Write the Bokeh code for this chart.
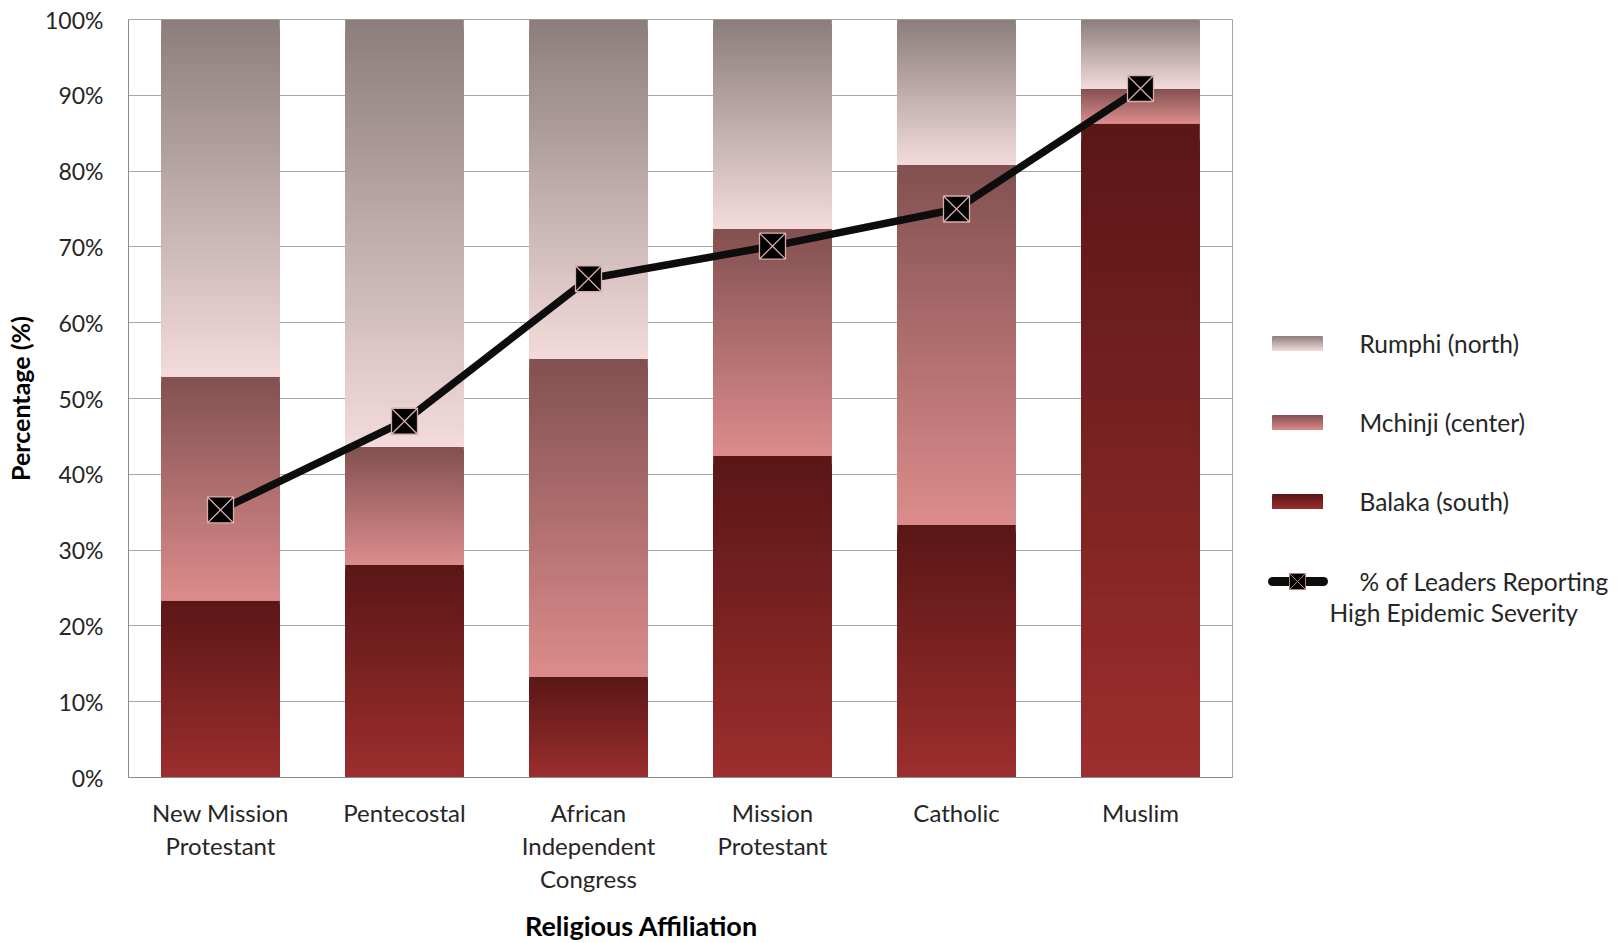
from bokeh.plotting import figure
from bokeh.models import FactorRange, Range1d, FixedTicker, ColumnDataSource
from bokeh.layouts import row, column
from bokeh.embed import file_html
from bokeh.resources import INLINE
from bokeh.core.properties import value

# ---------------- data ----------------
categories = ["New Mission\nProtestant", "Pentecostal", "African\nIndependent\nCongress",
              "Mission\nProtestant", "Catholic", "Muslim"]
balaka = [23.4, 28.1, 13.3, 42.4, 33.3, 86.3]      # Balaka (south)
mchinji = [29.5, 15.5, 41.9, 30.0, 47.5, 4.6]      # Mchinji (center)
rumphi = [47.1, 56.4, 44.8, 27.6, 19.2, 9.1]       # Rumphi (north)
severity = [35.3, 47.0, 65.8, 70.1, 75.0, 90.9]    # % of leaders reporting high epidemic severity
y_ticks = list(range(0, 101, 10))
series_names = ["Rumphi (north)", "Mchinji (center)", "Balaka (south)"]
line_name = "% of Leaders Reporting\nHigh Epidemic Severity"
x_title = "Religious Affiliation"
y_title = "Percentage (%)"

# gradient colours (bottom, top) per series
grad = {
    "Balaka (south)": ((0x9c, 0x2e, 0x2e), (0x5a, 0x16, 0x16)),
    "Mchinji (center)": ((0xdc, 0x8c, 0x8c), (0x82, 0x50, 0x50)),
    "Rumphi (north)": ((0xf3, 0xdb, 0xdb), (0x8c, 0x7d, 0x7d)),
}
FONT = "Lato"
TXT = "#262626"
N = 40


def mix(c0, c1, f):
    return "#%02x%02x%02x" % tuple(int(round(a + (b - a) * f)) for a, b in zip(c0, c1))


# ---------------- gradient slices from data ----------------
xs, bots, tops, cols = [], [], [], []
series_vals = [("Balaka (south)", balaka), ("Mchinji (center)", mchinji), ("Rumphi (north)", rumphi)]
for ci, cat in enumerate(categories):
    base = 0.0
    for name, vals in series_vals:
        b, t = base, base + vals[ci]
        base = t
        c_bot, c_top = grad[name]
        for i in reversed(range(N)):
            top_i = b + (t - b) * (i + 1) / N
            xs.append(cat)
            bots.append(b)
            tops.append(top_i)
            cols.append(mix(c_bot, c_top, (i + 0.5) / N))
bars = ColumnDataSource(dict(x=xs, bottom=bots, top=tops, color=cols))

H_TITLE = 40                  # height of the strip holding the x-axis title
H_MAIN = 943 - H_TITLE
FT = 19                       # frame top
FB = H_MAIN - 777             # frame bottom border (frame ends at y=777)

p = figure(x_range=FactorRange(factors=categories), y_range=Range1d(0, 100),
           width=1250, height=H_MAIN, output_backend="svg", toolbar_location=None,
           min_border_left=128, min_border_right=18, min_border_top=FT, min_border_bottom=FB)
p.vbar(x="x", bottom="bottom", top="top", width=0.645, fill_color="color", line_color=None, source=bars)
p.line(x=categories, y=severity, line_width=7.5, line_color="#0d0d0d")
p.scatter(x=categories, y=severity, marker="square_x", size=26, fill_color="#000000",
          line_color="#d9adad", line_width=1.3)

p.outline_line_color = "#a6a6a6"
p.background_fill_color = "white"
p.border_fill_color = "white"
p.xgrid.visible = False
p.ygrid.ticker = FixedTicker(ticks=y_ticks)
p.ygrid.grid_line_color = "#a6a6a6"
p.ygrid.grid_line_width = 1

ya = p.yaxis[0]
ya.ticker = FixedTicker(ticks=y_ticks)
ya.major_label_overrides = {t: f"{t}%" for t in y_ticks}
ya.axis_line_color = "#8c8c8c"
ya.major_tick_out = 0
ya.major_tick_in = 0
ya.minor_tick_out = 0
ya.minor_tick_in = 0
ya.major_label_standoff = 25
ya.major_label_text_font = FONT
ya.major_label_text_font_size = "23px"
ya.major_label_text_color = TXT
ya.axis_label = y_title
ya.axis_label_text_font = FONT
ya.axis_label_text_font_style = "bold"
ya.axis_label_text_font_size = "25px"
ya.axis_label_text_color = "#000000"
ya.axis_label_standoff = 7

xa = p.xaxis[0]
xa.axis_line_color = "#8c8c8c"
xa.major_tick_out = 0
xa.major_tick_in = 0
xa.major_label_standoff = 20
xa.major_label_text_font = FONT
xa.major_label_text_font_size = "24px"
xa.major_label_text_color = TXT
xa.major_label_text_line_height = 1.15

# ---------------- legend panel (frame aligned with main plot: pixel coordinates) ----------------
lg = figure(width=369, height=H_MAIN, x_range=Range1d(0, 369), y_range=Range1d(777, FT),
            output_backend="svg", toolbar_location=None,
            min_border_left=0, min_border_right=0, min_border_top=FT, min_border_bottom=FB)
lg.axis.visible = False
lg.grid.visible = False
lg.outline_line_color = None
lg.border_fill_color = "white"

patch_y = [343, 422, 501]
lb, lt, lc = [], [], []
for name, yc in zip(series_names, patch_y):
    c_bot, c_top = grad[name]
    y0, y1 = yc + 7.5, yc - 7.5
    for i in reversed(range(N)):
        lb.append(y0)
        lt.append(y0 + (y1 - y0) * (i + 1) / N)
        lc.append(mix(c_bot, c_top, (i + 0.5) / N))
lg.quad(left=22, right=72, bottom=lb, top=lt, fill_color=lc, line_color=None)
lg.text(x=[109] * 3, y=patch_y, text=series_names, text_font=value(FONT), text_font_size="24.5px",
        text_color=TXT, text_baseline="middle", text_align="left")
lg.line(x=[22, 73], y=[581, 581], line_width=9, line_color="#0d0d0d", line_cap="round")
lg.scatter(x=[47], y=[581], marker="square_x", size=16, fill_color="#000000",
           line_color="#b08080", line_width=1)
l1, l2 = line_name.split("\n")
lg.text(x=[109, 79], y=[581, 612], text=[l1, l2], text_font=value(FONT), text_font_size="24.5px",
        text_color=TXT, text_baseline="middle", text_align="left")

# ---------------- x-axis title strip ----------------
tf = figure(width=1619, height=H_TITLE, x_range=Range1d(0, 1619), y_range=Range1d(943, H_MAIN),
            output_backend="svg", toolbar_location=None, min_border=0)
tf.axis.visible = False
tf.grid.visible = False
tf.outline_line_color = None
tf.border_fill_color = "white"
tf.text(x=[641], y=[925], text=[x_title], text_font=value(FONT), text_font_style="bold",
        text_font_size="27px", text_color="#000000", text_align="center", text_baseline="middle")

layout = column(row(p, lg), tf)
open("out.html", "w").write(file_html(layout, INLINE))
